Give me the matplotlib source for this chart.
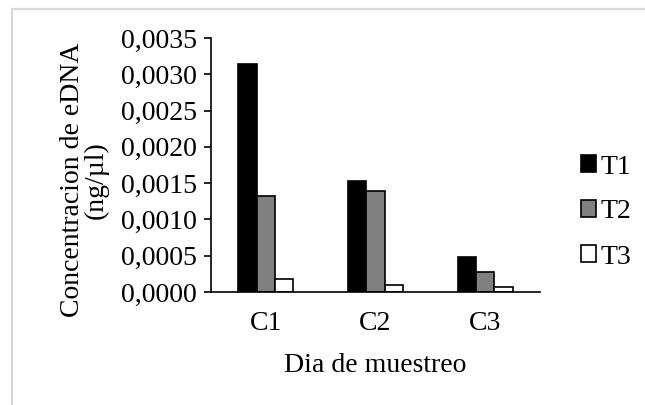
import numpy as np
import matplotlib.pyplot as plt
from matplotlib.patches import Rectangle
from matplotlib.ticker import FuncFormatter

# Concentracion de eDNA por dia de muestreo
dias = ['C1', 'C2', 'C3']
T1 = [0.00314, 0.00153, 0.00048]
T2 = [0.00132, 0.00139, 0.00028]
T3 = [0.00018, 0.00010, 0.00007]
series = ['T1', 'T2', 'T3']

plt.rcParams['font.family'] = ['Liberation Serif', 'DejaVu Serif']
plt.rcParams['font.size'] = 20

fig = plt.figure(figsize=(6.45, 4.05), dpi=100)
ax = fig.add_axes([211/645, 1 - 292/405, 329/645, 254/405])

x = np.arange(len(dias))
w = 0.167
colores = ['black', '#808080', 'white']
for i, (vals, c) in enumerate(zip([T1, T2, T3], colores)):
    ax.bar(x + (i - 1) * w, vals, w, color=c, edgecolor='black', linewidth=1.2, label=series[i])

ax.set_xlim(-0.5, 2.5)
ax.set_ylim(0, 0.0035)
ax.set_yticks(np.arange(0, 0.00351, 0.0005))
ax.yaxis.set_major_formatter(FuncFormatter(lambda v, p: f'{v:.4f}'.replace('.', ',')))
ax.set_xticks(x)
ax.set_xticklabels(dias)
ax.tick_params(axis='x', length=0, pad=14)
ax.tick_params(axis='y', length=5, width=1.2, direction='out', pad=5)
ax.spines['top'].set_visible(False)
ax.spines['right'].set_visible(False)
ax.spines['left'].set_linewidth(1.2)
ax.spines['bottom'].set_linewidth(1.2)

ax.set_xlabel('Dia de muestreo', labelpad=12)
ax.set_ylabel('Concentracion de eDNA\n(ng/µl)', linespacing=0.95)
ax.yaxis.set_label_coords(-0.31, 0.44)

fig.legend(loc='center left', bbox_to_anchor=(581/645, 1 - 212/405), frameon=False,
           handlelength=0.55, handleheight=0.55, handletextpad=0.15, labelspacing=0.72,
           borderaxespad=0, borderpad=0)

# marco gris alrededor
fig.patches.append(Rectangle((12/645, -0.1), 1.2, 1 - 9/405 + 0.1, transform=fig.transFigure,
                             fill=False, edgecolor='#d9d9d9', linewidth=1.6))

fig.savefig('out.png', dpi=100)
